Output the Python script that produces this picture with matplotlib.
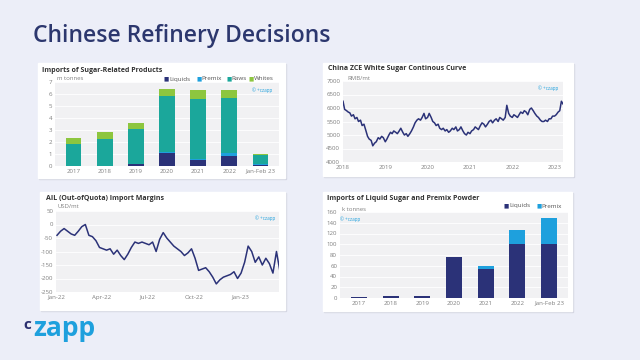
import matplotlib
matplotlib.use("Agg")
import matplotlib.pyplot as plt
import matplotlib.dates as mdates
from matplotlib.patches import Rectangle
import numpy as np
import pandas as pd

plt.rcParams['font.family'] = ['Open Sans', 'DejaVu Sans']
plt.rcParams['axes.unicode_minus'] = False

# ---- data ----
years = ['2017', '2018', '2019', '2020', '2021', '2022', 'Jan-Feb 23']
liquids_m = [0.02, 0.03, 0.15, 1.05, 0.5, 0.8, 0.1]
premix_m = [0.0, 0.0, 0.0, 0.1, 0.05, 0.25, 0.05]
raws_m = [1.78, 2.22, 2.9, 4.7, 5.05, 4.65, 0.8]
whites_m = [0.5, 0.55, 0.55, 0.6, 0.7, 0.65, 0.07]

zce_start = '2018-01-01'
zce_values = [6250, 5950, 5900, 5850, 5820, 5700, 5750, 5600, 5650, 5500, 5550, 5350,
              5400, 5200, 4950, 4850, 4800, 4600, 4700, 4750, 4900, 4850, 4950, 4900,
              4750, 4850, 5000, 5100, 5050, 5150, 5100, 5050, 5150, 5250, 5100, 5000,
              5050, 4950, 5050, 5150, 5300, 5450, 5550, 5600, 5550, 5650, 5800, 5600,
              5650, 5800, 5650, 5500, 5450, 5350, 5400, 5250, 5200, 5250, 5150, 5200,
              5100, 5150, 5250, 5200, 5300, 5150, 5200, 5300, 5150, 5050, 5000, 5100,
              5050, 5150, 5200, 5300, 5250, 5200, 5350, 5450, 5400, 5300, 5400, 5500,
              5550, 5450, 5550, 5600, 5500, 5650, 5600, 5550, 5650, 6100, 5800, 5700,
              5650, 5750, 5700, 5650, 5750, 5850, 5800, 5900, 5850, 5750, 5950, 6000,
              5900, 5800, 5700, 5650, 5550, 5500, 5500, 5550, 5500, 5600, 5600, 5700,
              5700, 5750, 5850, 5900, 6250, 6150]

ail_start = '2022-01-03'
ail_values = [-40, -25, -15, -25, -35, -40, -25, -8, 0, -40, -45, -60, -85, -90, -95,
              -90, -110, -95, -115, -130, -110, -85, -65, -70, -65, -70, -75, -65,
              -100, -55, -30, -50, -65, -80, -90, -100, -115, -105, -90, -125, -170,
              -165, -160, -175, -195, -220, -205, -195, -190, -185, -175, -200, -180,
              -140, -80, -100, -140, -120, -150, -125, -145, -180, -100, -175, -140,
              -155]

liquids_k = [2, 4, 4, 77, 54, 100, 101]
premix_k = [0, 0, 0, 0, 5, 27, 47]

# ---- colours ----
BG = '#eceef8'
NAVY = '#2b3278'
LBLUE = '#1ea0dd'
TEAL = '#1ba79b'
GREEN = '#8dc63f'
PLOTBG = '#f1f1f3'
TICK = '#808080'

W, H = 640, 360
fig = plt.figure(figsize=(6.4, 3.6), dpi=100)
fig.patch.set_facecolor(BG)


def rect(l, t, r, b):
    return [l / W, 1 - b / H, (r - l) / W, (b - t) / H]


def card(l, t, r, b):
    fig.patches.append(Rectangle((l / W + 0.002, 1 - b / H - 0.004), (r - l) / W, (b - t) / H,
                                 transform=fig.transFigure, color='#d4d6e2', zorder=-20))
    fig.patches.append(Rectangle((l / W, 1 - b / H), (r - l) / W, (b - t) / H,
                                 transform=fig.transFigure, color='white', zorder=-10))


def txt(x, y, s, **kw):
    fig.text(x / W, 1 - y / H, s, **kw)


def style(ax):
    ax.set_facecolor(PLOTBG)
    for s in ax.spines.values():
        s.set_visible(False)
    ax.tick_params(length=0, labelsize=4.4, colors=TICK, pad=2)
    ax.grid(axis='y', color='white', lw=0.6)
    ax.set_axisbelow(True)


def legend_items(x, y, items):
    for label, col in items:
        txt(x, y, '\u25a0', color=col, fontsize=4, va='center')
        txt(x + 5, y, label, color='#555555', fontsize=4.5, va='center')
        x += 9 + len(label) * 3.4


# title and logo
txt(33, 36, 'Chinese Refinery Decisions', fontsize=16.5, fontweight='semibold',
    color='#2c376e', va='center')
txt(23, 325, 'c', fontsize=11, fontweight='bold', color='#2b3070', va='center')
txt(33, 329, 'zapp', fontsize=19, fontweight='bold', color=LBLUE, va='center')

# cards
card(38, 63, 285, 178)
card(323, 63, 573, 176)
card(40, 192, 285, 310)
card(323, 192, 572, 311)

# ---- panel 1: imports of sugar-related products ----
ax1 = fig.add_axes(rect(55, 82, 279, 166))
style(ax1)
x = np.arange(len(years))
b = np.zeros(len(years))
for vals, col in [(liquids_m, NAVY), (premix_m, LBLUE), (raws_m, TEAL), (whites_m, GREEN)]:
    ax1.bar(x, vals, 0.5, bottom=b, color=col)
    b = b + np.array(vals)
ax1.set_ylim(0, 7)
ax1.set_yticks(range(8))
ax1.set_xticks(x)
ax1.set_xticklabels(years)
ax1.set_xlim(-0.6, len(years) - 0.4)
txt(42, 70, 'Imports of Sugar-Related Products', fontsize=5, fontweight='bold', color='#333333', va='center')
txt(57, 79, 'm tonnes', fontsize=4.3, color=TICK, va='center')
legend_items(164, 79, [('Liquids', NAVY), ('Premix', LBLUE), ('Raws', TEAL), ('Whites', GREEN)])
txt(252, 90, '\u00a9 +czapp', fontsize=3.3, color=LBLUE, va='center')

# ---- panel 2: ZCE white sugar ----
ax2 = fig.add_axes(rect(343, 81, 563, 162))
style(ax2)
zdates = pd.date_range(zce_start, periods=len(zce_values), freq='SMS')
ax2.plot(zdates, zce_values, color=NAVY, lw=1.1)
ax2.set_ylim(4000, 7000)
ax2.set_yticks(range(4000, 7001, 500))
ax2.set_xlim(pd.Timestamp('2018-01-01'), pd.Timestamp('2023-03-15'))
ax2.xaxis.set_major_locator(mdates.YearLocator())
ax2.xaxis.set_major_formatter(mdates.DateFormatter('%Y'))
txt(328, 69, 'China ZCE White Sugar Continous Curve', fontsize=5, fontweight='bold', color='#333333', va='center')
txt(347, 79, 'RMB/mt', fontsize=4.3, color=TICK, va='center')
txt(538, 88, '\u00a9 +czapp', fontsize=3.3, color=LBLUE, va='center')

# ---- panel 3: AIL import margins ----
ax3 = fig.add_axes(rect(56, 211, 279, 292))
style(ax3)
adates = pd.date_range(ail_start, periods=len(ail_values), freq='W-MON')
ax3.plot(adates, ail_values, color=NAVY, lw=1.1)
ax3.set_ylim(-250, 50)
ax3.set_yticks(range(-250, 51, 50))
ax3.set_xlim(pd.Timestamp('2022-01-01'), pd.Timestamp('2023-03-18'))
ax3.xaxis.set_major_locator(mdates.MonthLocator(bymonth=[1, 4, 7, 10]))
ax3.xaxis.set_major_formatter(mdates.DateFormatter('%b-%y'))
txt(46, 198, 'AIL (Out-ofQuota) Import Margins', fontsize=5, fontweight='bold', color='#333333', va='center')
txt(57, 206, 'USD/mt', fontsize=4.3, color=TICK, va='center')
txt(255, 218, '\u00a9 +czapp', fontsize=3.3, color=LBLUE, va='center')

# ---- panel 4: liquid sugar and premix ----
ax4 = fig.add_axes(rect(340, 212, 568, 298))
style(ax4)
ax4.bar(x, liquids_k, 0.5, color=NAVY)
ax4.bar(x, premix_k, 0.5, bottom=liquids_k, color=LBLUE)
ax4.set_ylim(0, 160)
ax4.set_yticks(range(0, 161, 20))
ax4.set_xticks(x)
ax4.set_xticklabels(years)
ax4.set_xlim(-0.6, len(years) - 0.4)
txt(327, 199, 'Imports of Liquid Sugar and Premix Powder', fontsize=5, fontweight='bold', color='#333333', va='center')
txt(342, 209, 'k tonnes', fontsize=4.3, color=TICK, va='center')
legend_items(504, 206, [('Liquids', NAVY), ('Premix', LBLUE)])
txt(340, 219, '\u00a9 +czapp', fontsize=3.3, color=LBLUE, va='center')

fig.savefig('out.png', dpi=100, facecolor=BG)
